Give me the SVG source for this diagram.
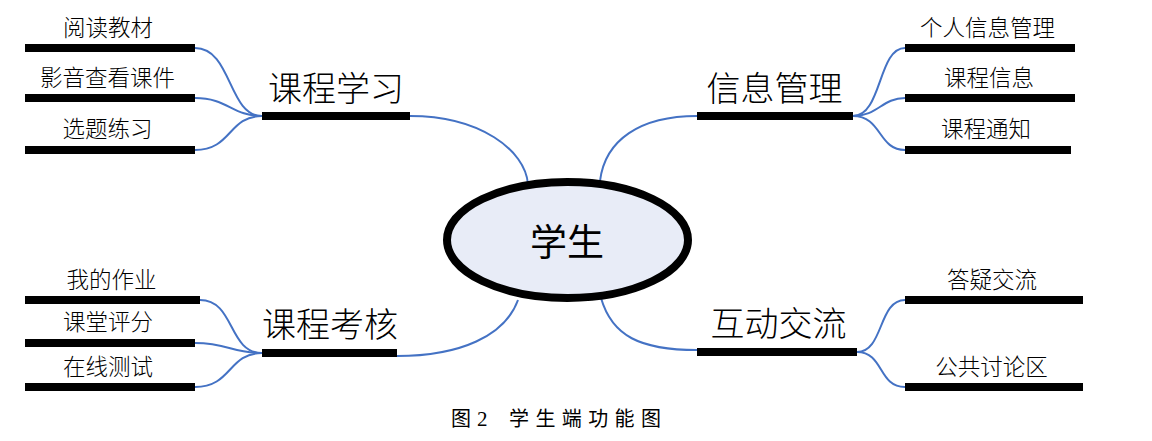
<svg xmlns="http://www.w3.org/2000/svg" width="1152" height="441" viewBox="0 0 1152 441">
<style>
  .bar { fill: #000; }
  .conn { fill: none; stroke: #4472C4; stroke-width: 2; }
  .t { font-family: "Noto Sans CJK SC", "Noto Sans", sans-serif; fill: #000; text-anchor: middle; }
  .s { font-size: 22.5px; font-weight: 300; }
  .m { font-size: 34px; font-weight: 300; }
  .c { font-size: 37px; }
  .cap { font-family: "Noto Sans CJK SC", "Liberation Serif", serif; font-size: 20px; fill: #000; }
  .num { font-family: "Liberation Serif", serif; font-size: 21px; fill: #000; }
</style>
<rect width="1152" height="441" fill="#fff"/>
<g id="connectors">
  <path class="conn" d="M410,116 C480,116 525,150 528,184"/>
  <path class="conn" d="M600,181 C605,140 640,116 697,116"/>
  <path class="conn" d="M518,300 C505,336 460,356 397,356 L297,356"/>
  <path class="conn" d="M601,298 C612,336 640,350 697,350"/>
  <path class="conn" d="M195,48 C232,48 228,116 262,116"/>
  <path class="conn" d="M195,98 C228,98 232,116 262,116"/>
  <path class="conn" d="M195,150 C232,150 228,116 262,116"/>
  <path class="conn" d="M853,116 C882,116 878,48 905,48"/>
  <path class="conn" d="M853,116 C878,116 882,98 905,98"/>
  <path class="conn" d="M853,116 C882,116 878,150 905,150"/>
  <path class="conn" d="M200,300 C235,300 228,353 262,353"/>
  <path class="conn" d="M195,343 C228,343 232,353 262,353"/>
  <path class="conn" d="M195,387 C232,387 228,353 262,353"/>
  <path class="conn" d="M857,352 C884,352 878,300 905,300"/>
  <path class="conn" d="M857,352 C884,352 878,387 905,387"/>
</g>
<g id="center">
  <ellipse cx="567.5" cy="240" rx="120.5" ry="58" fill="#E8ECF7" stroke="#000" stroke-width="8"/>
  <text class="t c" x="567" y="256">学生</text>
</g>
<g id="kcxx">
  <rect class="bar" x="262" y="112" width="148" height="8"/>
  <text class="t m" x="336" y="101">课程学习</text>
</g>
<g id="ydjc">
  <rect class="bar" x="25" y="44" width="170" height="8"/>
  <text class="t s" x="108" y="36">阅读教材</text>
</g>
<g id="yykj">
  <rect class="bar" x="25" y="94" width="170" height="8"/>
  <text class="t s" x="107.5" y="86">影音查看课件</text>
</g>
<g id="xtlx">
  <rect class="bar" x="25" y="146" width="170" height="8"/>
  <text class="t s" x="107.5" y="137">选题练习</text>
</g>
<g id="xxgl">
  <rect class="bar" x="697" y="112" width="156" height="8"/>
  <text class="t m" x="774.5" y="101">信息管理</text>
</g>
<g id="grxx">
  <rect class="bar" x="905" y="44" width="170" height="8"/>
  <text class="t s" x="987.5" y="36">个人信息管理</text>
</g>
<g id="kcxi">
  <rect class="bar" x="905" y="94" width="170" height="8"/>
  <text class="t s" x="989" y="86">课程信息</text>
</g>
<g id="kctz">
  <rect class="bar" x="905" y="146" width="166" height="8"/>
  <text class="t s" x="986" y="137">课程通知</text>
</g>
<g id="kckh">
  <rect class="bar" x="262" y="349" width="135" height="8"/>
  <text class="t m" x="330" y="337">课程考核</text>
</g>
<g id="wdzy">
  <rect class="bar" x="25" y="296" width="175" height="8"/>
  <text class="t s" x="111.5" y="288">我的作业</text>
</g>
<g id="ktpf">
  <rect class="bar" x="25" y="339" width="170" height="8"/>
  <text class="t s" x="108" y="330">课堂评分</text>
</g>
<g id="zxcs">
  <rect class="bar" x="25" y="383" width="170" height="8"/>
  <text class="t s" x="108" y="375">在线测试</text>
</g>
<g id="hdjl">
  <rect class="bar" x="697" y="348" width="160" height="8"/>
  <text class="t m" x="778.5" y="336">互动交流</text>
</g>
<g id="dyjl">
  <rect class="bar" x="905" y="296" width="178" height="8"/>
  <text class="t s" x="992" y="288">答疑交流</text>
</g>
<g id="ggtlq">
  <rect class="bar" x="905" y="383" width="178" height="8"/>
  <text class="t s" x="991.5" y="375">公共讨论区</text>
</g>
<g id="caption">
  <text class="cap" x="451" y="426" font-size="19">图</text>
  <text class="num" x="477" y="426">2</text>
  <text class="cap" x="509" y="426" letter-spacing="6.4">学生端功能图</text>
</g>
</svg>
